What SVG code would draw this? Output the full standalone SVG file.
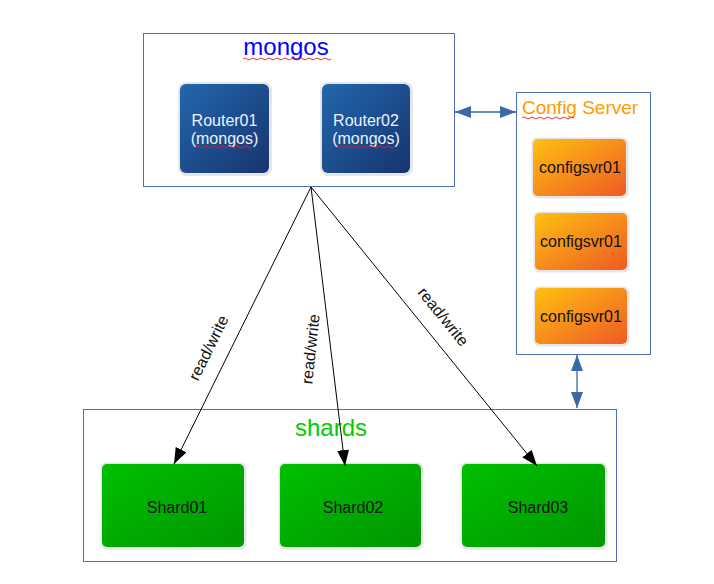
<svg xmlns="http://www.w3.org/2000/svg" width="714" height="584" viewBox="0 0 714 584">
<style>
text{font-family:"Liberation Sans",Arial,sans-serif}
.box{fill:#fff;stroke:#4a72b0;stroke-width:1}
.shadow{fill:#e6e6e6}
.lbl{font-size:16px;text-anchor:middle}
.rt{fill:#eaf2ff}
.dk{fill:#111}
.edge{stroke:#000;stroke-width:1;fill:none;marker-end:url(#ah)}
.blue{stroke:#3a68a8;stroke-width:1.3;fill:none;marker-start:url(#bh);marker-end:url(#bh)}
.sq{fill:none;stroke:#e02020;stroke-width:0.9}
</style>
<defs>
<linearGradient id="gR" x1="0" y1="0" x2="1" y2="1"><stop offset="0" stop-color="#2267ad"/><stop offset="1" stop-color="#17346f"/></linearGradient>
<linearGradient id="gC" x1="0" y1="0" x2="1" y2="1"><stop offset="0" stop-color="#ffc012"/><stop offset="1" stop-color="#ee5a24"/></linearGradient>
<linearGradient id="gS" x1="0" y1="0" x2="1" y2="1"><stop offset="0" stop-color="#00c000"/><stop offset="1" stop-color="#009600"/></linearGradient>
<marker id="ah" viewBox="0 0 16 12" refX="16" refY="6" markerWidth="16" markerHeight="12" markerUnits="userSpaceOnUse" orient="auto"><path d="M0,0 L16,6 L0,12 Z" fill="#000"/></marker>
<marker id="bh" viewBox="0 0 16 12" refX="16" refY="6" markerWidth="16" markerHeight="12" markerUnits="userSpaceOnUse" orient="auto-start-reverse"><path d="M0,0 L16,6 L0,12 Z" fill="#3a68a8"/></marker>
</defs>

<g id="mongos">
<rect class="box" x="143.5" y="33.5" width="311" height="153"/>
<text x="286" y="55" font-size="24" fill="#0000ff" text-anchor="middle">mongos</text>
<path class="sq" d="M243,59 q2,-2 4,0 t4,0 t4,0 t4,0 t4,0 t4,0 t4,0 t4,0 t4,0 t4,0 t4,0 t4,0 t4,0 t4,0 t4,0 t4,0 t4,0 t4,0 t4,0 t4,0 t4,0 t4,0"/>
</g>

<g id="router01">
<rect class="shadow" x="178" y="82" width="94" height="94" rx="8"/>
<rect x="180" y="84" width="89" height="89" rx="6" fill="url(#gR)"/>
<text class="lbl rt" x="224.5" y="126">Router01</text>
<text class="lbl rt" x="224.5" y="144">(mongos)</text>
<path class="sq" d="M196,147 q2,-2 4,0 t4,0 t4,0 t4,0 t4,0 t4,0 t4,0 t4,0 t4,0 t4,0 t4,0 t4,0 t4,0 t4,0"/>
</g>

<g id="router02">
<rect class="shadow" x="320" y="82" width="93" height="94" rx="8"/>
<rect x="322" y="84" width="88" height="89" rx="6" fill="url(#gR)"/>
<text class="lbl rt" x="366" y="126">Router02</text>
<text class="lbl rt" x="366" y="144">(mongos)</text>
<path class="sq" d="M338,147 q2,-2 4,0 t4,0 t4,0 t4,0 t4,0 t4,0 t4,0 t4,0 t4,0 t4,0 t4,0 t4,0 t4,0 t4,0"/>
</g>

<g id="config-server">
<rect class="box" x="516.5" y="92.5" width="134" height="262"/>
<text x="522" y="114" font-size="19" fill="#ff9900">Config Server</text>
<path class="sq" d="M522,118 q2,-2 4,0 t4,0 t4,0 t4,0 t4,0 t4,0 t4,0 t4,0 t4,0 t4,0 t4,0 t4,0 t4,0"/>
</g>

<g id="configsvr01-a">
<rect class="shadow" x="531.5" y="137.5" width="97" height="61" rx="6"/>
<rect x="533" y="139" width="93" height="57" rx="5" fill="url(#gC)"/>
<text class="lbl dk" x="580" y="173">configsvr01</text>
</g>
<g id="configsvr01-b">
<rect class="shadow" x="533.5" y="211.5" width="96" height="61" rx="6"/>
<rect x="535" y="213" width="92" height="57" rx="5" fill="url(#gC)"/>
<text class="lbl dk" x="581" y="247">configsvr01</text>
</g>
<g id="configsvr01-c">
<rect class="shadow" x="533.5" y="286.5" width="96" height="60" rx="6"/>
<rect x="535" y="288" width="92" height="56" rx="5" fill="url(#gC)"/>
<text class="lbl dk" x="581" y="322">configsvr01</text>
</g>

<g id="shards">
<rect class="box" x="83.5" y="409.5" width="533" height="152"/>
<text x="331" y="436" font-size="24" fill="#00cc00" text-anchor="middle">shards</text>
</g>

<g id="shard01">
<rect class="shadow" x="100.5" y="462.5" width="146" height="87" rx="6"/>
<rect x="102" y="464" width="142" height="83" rx="5" fill="url(#gS)"/>
<text class="lbl dk" x="177" y="513">Shard01</text>
</g>
<g id="shard02">
<rect class="shadow" x="278.5" y="462.5" width="145" height="87" rx="6"/>
<rect x="280" y="464" width="141" height="83" rx="5" fill="url(#gS)"/>
<text class="lbl dk" x="353" y="513">Shard02</text>
</g>
<g id="shard03">
<rect class="shadow" x="460.5" y="462.5" width="147" height="87" rx="6"/>
<rect x="462" y="464" width="143" height="83" rx="5" fill="url(#gS)"/>
<text class="lbl dk" x="538" y="513">Shard03</text>
</g>

<g id="connectors">
<path class="edge" d="M311,187 L174,464"/>
<path class="edge" d="M311,187 L345,466"/>
<path class="edge" d="M311,187 L537,466"/>
<path class="blue" d="M455,112 L516,112"/>
<path class="blue" d="M577,355 L577,408"/>
<text class="lbl dk" transform="translate(209,348) rotate(-63.8)" y="5">read/write</text>
<text class="lbl dk" transform="translate(311,349) rotate(-84)" y="5">read/write</text>
<text class="lbl dk" transform="translate(443,317) rotate(51)" y="5">read/write</text>
</g>
</svg>
